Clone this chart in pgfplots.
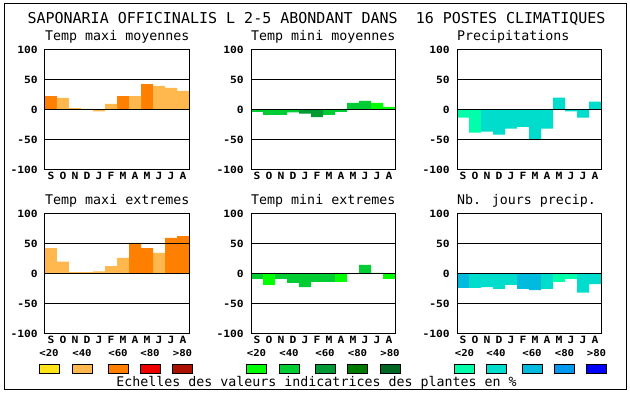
\documentclass[border=0pt]{standalone}
\usepackage{pgfplots}
\pgfplotsset{compat=1.18}
\usepackage{fontspec}
\setmainfont{DejaVu Sans Mono}
\newfontfamily\tickfont[FakeStretch=1.13]{DejaVu Sans Mono}
\definecolor{oA}{HTML}{FFE41A}
\definecolor{oB}{HTML}{FFB84D}
\definecolor{oC}{HTML}{FF8000}
\definecolor{oD}{HTML}{EE0000}
\definecolor{oE}{HTML}{AA1100}
\definecolor{gA}{HTML}{00FF00}
\definecolor{gB}{HTML}{00CC33}
\definecolor{gC}{HTML}{009933}
\definecolor{gD}{HTML}{007A00}
\definecolor{gE}{HTML}{006622}
\definecolor{bA}{HTML}{00FFAA}
\definecolor{bB}{HTML}{00DDCC}
\definecolor{bC}{HTML}{00BBDD}
\definecolor{bD}{HTML}{0099EE}
\definecolor{bE}{HTML}{0000FF}
\pgfplotsset{
  panel/.style={
    width=144pt, height=120pt, scale only axis, anchor=south west,
    xmin=-0.5, xmax=11.5, ymin=-100, ymax=100,
    ytick={-100,-50,0,50,100}, yticklabels={-100,-50,0,50,100},
    xtick={0,...,11}, xticklabels={S,O,N,D,J,F,M,A,M,J,J,A},
    major tick length=0pt,
    ymajorgrids, grid style={black, line width=1pt},
    axis line style={line width=1pt},
    axis on top,
    ticklabel style={font=\tickfont\bfseries\fontsize{10}{10}\selectfont, inner sep=0pt},
    yticklabel style={anchor=east, xshift=-7pt},
    xticklabel style={anchor=base, yshift=-10pt},
  },
  bars/.style={ybar, bar width=1, draw=none, fill=#1},
}
\begin{document}
\begin{tikzpicture}[x=1pt,y=1pt]
\useasboundingbox (0,0) rectangle (630,394);
\fill[white] (0,0) rectangle (630,394);
\draw[line width=1pt] (4,4) rectangle (626,390);
\node[anchor=base, inner sep=0pt, font=\fontsize{15}{15}\selectfont] at (316.5,370.5) {SAPONARIA OFFICINALIS L 2-5 ABONDANT DANS\ \ 16 POSTES CLIMATIQUES};
% panel titles
\begin{scope}[every node/.style={anchor=base west, inner sep=0pt, font=\fontsize{13.3}{13.3}\selectfont}]
\node at (45,353) {Temp maxi moyennes};
\node at (251,353) {Temp mini moyennes};
\node at (457,353) {Precipitations};
\node at (45,189) {Temp maxi extremes};
\node at (251,189) {Temp mini extremes};
\node at (457,189) {Nb. jours precip.};
\end{scope}
% Temp maxi moyennes
\begin{axis}[panel, at={(45pt,224pt)}]
\addplot[bars=oC] coordinates {(0,23.3) (6,23.3) (8,43.3)};
\addplot[bars=oB] coordinates {(1,20) (2,3.3) (3,1.7) (4,-2.5) (5,10) (7,23.3) (9,40) (10,36.7) (11,31.7)};
\end{axis}
% Temp mini moyennes
\begin{axis}[panel, at={(251pt,224pt)}]
\addplot[bars=gB] coordinates {(0,-3) (1,-8) (2,-8) (3,-4) (6,-8) (7,-3) (8,11.7) (9,15)};
\addplot[bars=gC] coordinates {(4,-6) (5,-11.7)};
\addplot[bars=gA] coordinates {(10,11.7) (11,5)};
\end{axis}
% Precipitations
\begin{axis}[panel, at={(457pt,224pt)}]
\addplot[bars=bA] coordinates {(0,-12.8) (1,-37.8)};
\addplot[bars=bB] coordinates {(2,-36) (3,-41) (4,-31) (5,-28) (6,-49.4) (7,-31) (8,20.5) (9,-2.5) (10,-12.8) (11,14)};
\end{axis}
% Temp maxi extremes
\begin{axis}[panel, at={(45pt,60pt)}]
\addplot[bars=oB] coordinates {(0,43.3) (1,20.5) (2,3.3) (3,3.3) (4,4.4) (5,13.3) (6,26.7) (9,35)};
\addplot[bars=oC] coordinates {(7,52) (8,43.3) (10,60) (11,63.3)};
\end{axis}
% Temp mini extremes
\begin{axis}[panel, at={(251pt,60pt)}]
\addplot[bars=gB] coordinates {(0,-8.3) (2,-8.3) (3,-15) (4,-21.7) (5,-13.3) (6,-13.3) (9,15)};
\addplot[bars=gA] coordinates {(1,-18.3) (7,-13.3) (10,1.7) (11,-8.3)};
\end{axis}
% Nb jours precip
\begin{axis}[panel, at={(457pt,60pt)}]
\addplot[bars=bC] coordinates {(0,-23.3) (5,-25) (6,-26.7)};
\addplot[bars=bB] coordinates {(1,-23.3) (2,-21.7) (3,-25) (4,-18.3) (7,-25) (10,-31) (11,-16.7)};
\addplot[bars=bA] coordinates {(8,-13.3) (9,-8.3)};
\end{axis}
% legend scales
\foreach \cx/\c/\t in {49/oA/<20, 82/oB/<40, 118/oC/<60, 150/oD/<80, 182.5/oE/>80,
                       256.5/gA/<20, 289/gB/<40, 325/gC/<60, 357.5/gD/<80, 390/gE/>80,
                       464.5/bA/<20, 496/bB/<40, 532/bC/<60, 564.5/bD/<80, 596.5/bE/>80}{
  \draw[fill=\c, line width=1pt] (\cx-10,20.5) rectangle (\cx+10,29);
  \node[anchor=base, inner sep=0pt, font=\tickfont\bfseries\fontsize{9.5}{9.5}\selectfont] at (\cx,37) {\t};
}
\node[anchor=base, inner sep=0pt, font=\fontsize{13.3}{13.3}\selectfont] at (316.5,7) {Echelles des valeurs indicatrices des plantes en \%};
\end{tikzpicture}
\end{document}
